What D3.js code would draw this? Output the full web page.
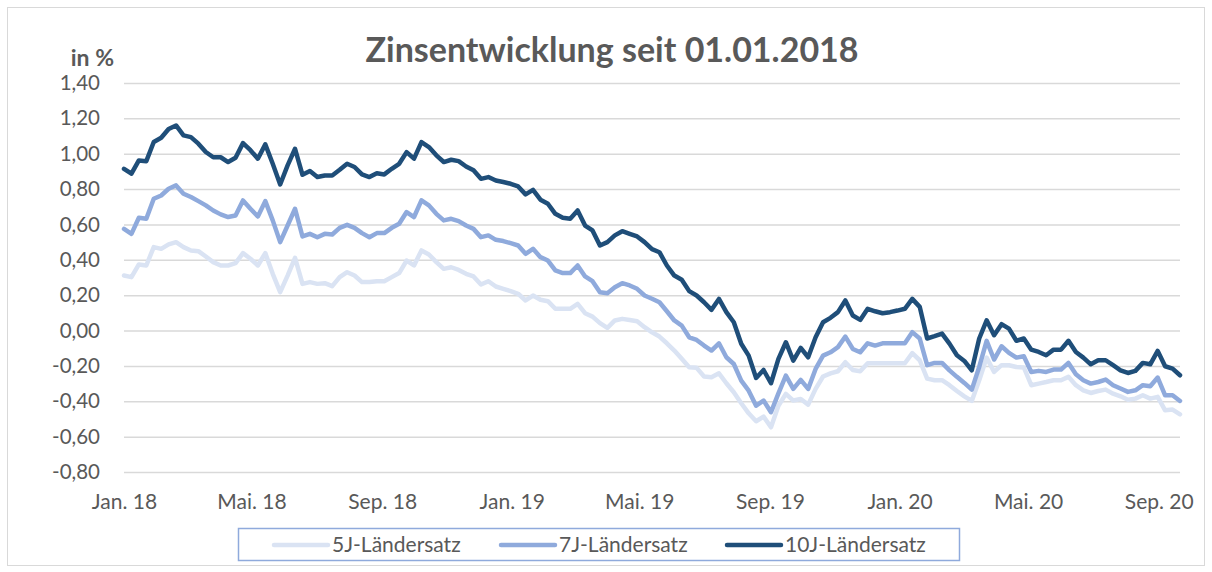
<!DOCTYPE html>
<html>
<head>
<meta charset="utf-8">
<script src="https://cdn.jsdelivr.net/npm/d3@7"></script>
<style>
  body { margin: 0; background: #fff; }
  text { font-family: Lato, "Noto Sans", sans-serif; fill: #595959; }
</style>
</head>
<body>
<div id="chart"></div>
<script>
// weekly values, starting Monday 01.01.2018
let startDate = new Date(2018, 0, 1);

let series5J = [
  0.311,0.302,0.374,0.368,0.472,0.462,0.487,0.500,0.472,0.453,0.449,0.419,0.387,0.368,0.368,0.381,0.438,0.406,0.368,0.438,0.321,0.217,0.311,0.411,0.264,0.274,0.264,0.268,0.251,0.302,0.330,0.311,0.274,0.274,0.279,0.279,
  0.302,0.325,0.396,0.368,0.453,0.430,0.387,0.349,0.358,0.343,0.321,0.306,0.260,0.279,0.249,0.236,0.223,0.208,0.170,0.198,0.174,0.166,0.123,0.123,0.123,0.151,0.098,0.079,0.042,0.015,0.057,0.066,0.060,0.053,0.019,
  -0.010,-0.034,-0.072,-0.113,-0.160,-0.208,-0.211,-0.260,-0.264,-0.242,-0.298,-0.349,-0.411,-0.468,-0.513,-0.487,-0.547,-0.425,-0.358,-0.396,-0.387,-0.419,-0.330,-0.260,-0.242,-0.230,-0.179,-0.223,-0.230,-0.185,-0.185,-0.185,-0.185,-0.185,-0.185,-0.128,
  -0.168,-0.272,-0.281,-0.281,-0.309,-0.342,-0.372,-0.398,-0.281,-0.153,-0.234,-0.196,-0.196,-0.206,-0.209,-0.309,-0.300,-0.291,-0.281,-0.281,-0.262,-0.309,-0.338,-0.353,-0.342,-0.334,-0.357,-0.372,-0.391,-0.385,-0.366,-0.385,-0.375,-0.451,-0.447,-0.474
];

let series7J = [
  0.575,0.547,0.638,0.632,0.745,0.764,0.802,0.821,0.774,0.755,0.732,0.708,0.679,0.657,0.642,0.651,0.736,0.689,0.645,0.732,0.623,0.500,0.594,0.689,0.532,0.547,0.528,0.547,0.543,0.581,0.598,0.581,0.551,0.528,0.551,0.551,
  0.581,0.604,0.670,0.642,0.736,0.708,0.660,0.623,0.632,0.619,0.594,0.575,0.528,0.538,0.513,0.506,0.494,0.481,0.434,0.462,0.415,0.396,0.340,0.325,0.325,0.368,0.306,0.279,0.217,0.211,0.245,0.268,0.255,0.236,0.198,
  0.180,0.160,0.109,0.057,0.028,-0.038,-0.053,-0.085,-0.113,-0.072,-0.151,-0.189,-0.283,-0.340,-0.425,-0.396,-0.462,-0.355,-0.255,-0.330,-0.279,-0.330,-0.217,-0.142,-0.123,-0.094,-0.034,-0.104,-0.123,-0.072,-0.085,-0.072,-0.072,-0.072,-0.072,-0.009,
  -0.045,-0.196,-0.183,-0.183,-0.225,-0.262,-0.296,-0.334,-0.206,-0.058,-0.164,-0.089,-0.126,-0.153,-0.145,-0.234,-0.228,-0.234,-0.221,-0.221,-0.183,-0.247,-0.281,-0.300,-0.291,-0.277,-0.309,-0.328,-0.347,-0.338,-0.309,-0.315,-0.266,-0.366,-0.366,-0.398
];

let series10J = [
  0.915,0.887,0.962,0.958,1.066,1.090,1.140,1.160,1.104,1.094,1.057,1.010,0.980,0.980,0.953,0.977,1.060,1.020,0.972,1.053,0.943,0.826,0.934,1.028,0.881,0.902,0.868,0.877,0.877,0.909,0.943,0.925,0.883,0.868,0.890,0.883,
  0.915,0.943,1.009,0.972,1.066,1.038,0.991,0.953,0.966,0.958,0.928,0.906,0.858,0.868,0.849,0.840,0.830,0.815,0.770,0.796,0.740,0.717,0.660,0.638,0.632,0.679,0.594,0.566,0.481,0.500,0.538,0.562,0.547,0.532,0.500,
  0.460,0.443,0.368,0.311,0.287,0.223,0.198,0.160,0.117,0.179,0.104,0.047,-0.075,-0.142,-0.268,-0.223,-0.298,-0.160,-0.066,-0.170,-0.098,-0.151,-0.038,0.047,0.072,0.104,0.170,0.085,0.060,0.123,0.109,0.098,0.104,0.113,0.123,0.179,
  0.134,-0.045,-0.032,-0.017,-0.074,-0.140,-0.172,-0.225,-0.045,0.058,-0.026,0.036,0.011,-0.058,-0.045,-0.108,-0.121,-0.140,-0.108,-0.108,-0.058,-0.121,-0.153,-0.191,-0.168,-0.168,-0.196,-0.225,-0.240,-0.228,-0.183,-0.191,-0.115,-0.202,-0.215,-0.253
];

let seriesNames = ["5J-Ländersatz", "7J-Ländersatz", "10J-Ländersatz"];
let seriesColors = ["#dae3f3", "#8faadc", "#1f4e79"];
let yTicks = [-0.8, -0.6, -0.4, -0.2, 0, 0.2, 0.4, 0.6, 0.8, 1.0, 1.2, 1.4];
let xTickDates = [
  new Date(2018, 0, 1), new Date(2018, 4, 1), new Date(2018, 8, 1),
  new Date(2019, 0, 1), new Date(2019, 4, 1), new Date(2019, 8, 1),
  new Date(2020, 0, 1), new Date(2020, 4, 1), new Date(2020, 8, 1)
];
let monthNames = ["Jan.", "Feb.", "Mär.", "Apr.", "Mai.", "Jun.", "Jul.", "Aug.", "Sep.", "Okt.", "Nov.", "Dez."];

let dates = series10J.map((d, i) => d3.timeDay.offset(startDate, i * 7));
let allSeries = [series5J, series7J, series10J];

let width = 1212, height = 572;
let plot = { left: 124, right: 1180, top: 83, bottom: 472 };

let svg = d3.select("#chart").append("svg")
  .attr("width", width)
  .attr("height", height);

svg.append("rect")
  .attr("x", 0).attr("y", 0)
  .attr("width", width).attr("height", height)
  .attr("fill", "#fff");

// outer chart border
svg.append("rect")
  .attr("x", 7.5).attr("y", 7.5)
  .attr("width", 1197).attr("height", 558)
  .attr("fill", "none")
  .attr("stroke", "#d9d9d9")
  .attr("stroke-width", 1);

let xScale = d3.scaleTime()
  .domain([dates[0], dates[dates.length - 1]])
  .range([plot.left, plot.right]);

let yScale = d3.scaleLinear()
  .domain([-0.8, 1.4])
  .range([plot.bottom, plot.top]);

let deLocale = d3.formatLocale({ decimal: ",", thousands: ".", grouping: [3], currency: ["", " €"], minus: "-" });
let yFormat = deLocale.format(".2f");

// gridlines + y labels
let yAxis = d3.axisLeft(yScale)
  .tickValues(yTicks)
  .tickFormat(yFormat)
  .tickSize(-(plot.right - plot.left))
  .tickPadding(24);

let yG = svg.append("g")
  .attr("transform", "translate(" + plot.left + ",0)")
  .call(yAxis);
yG.select(".domain").remove();
yG.selectAll(".tick line").attr("stroke", "#d9d9d9").attr("stroke-width", 1.5);
yG.selectAll(".tick text")
  .attr("font-size", 20.5)
  .attr("fill", "#595959")
  .style("font-family", "Lato, sans-serif");

// x labels
let xAxis = d3.axisBottom(xScale)
  .tickValues(xTickDates)
  .tickFormat(d => monthNames[d.getMonth()] + " " + String(d.getFullYear()).slice(2))
  .tickSize(0)
  .tickPadding(22);

let xG = svg.append("g")
  .attr("transform", "translate(0," + plot.bottom + ")")
  .call(xAxis);
xG.select(".domain").remove();
xG.selectAll(".tick text")
  .attr("font-size", 21)
  .attr("fill", "#595959")
  .style("font-family", "Lato, sans-serif");

// lines
let line = d3.line()
  .x((d, i) => xScale(dates[i]))
  .y(d => yScale(d));

allSeries.forEach((s, k) => {
  svg.append("path")
    .attr("d", line(s))
    .attr("fill", "none")
    .attr("stroke", seriesColors[k])
    .attr("stroke-width", 4.5)
    .attr("stroke-linejoin", "round")
    .attr("stroke-linecap", "round");
});

// title and unit
svg.append("text")
  .attr("x", 612)
  .attr("y", 62)
  .attr("text-anchor", "middle")
  .attr("font-size", 34)
  .attr("font-weight", "bold")
  .text("Zinsentwicklung seit 01.01.2018");

svg.append("text")
  .attr("x", 114)
  .attr("y", 66)
  .attr("text-anchor", "end")
  .attr("font-size", 23)
  .attr("font-weight", "bold")
  .text("in %");

// legend
let legend = svg.append("g");
legend.append("rect")
  .attr("x", 238.5).attr("y", 528.5)
  .attr("width", 721).attr("height", 32)
  .attr("fill", "#fff")
  .attr("stroke", "#8faadc")
  .attr("stroke-width", 1.5);

let legendX = [274, 501, 727];
seriesNames.forEach((name, k) => {
  legend.append("line")
    .attr("x1", legendX[k]).attr("x2", legendX[k] + 54)
    .attr("y1", 545).attr("y2", 545)
    .attr("stroke", seriesColors[k])
    .attr("stroke-width", 4.5)
    .attr("stroke-linecap", "round");
  legend.append("text")
    .attr("x", legendX[k] + 58)
    .attr("y", 552)
    .attr("font-size", 21)
    .text(name);
});
</script>
</body>
</html>
